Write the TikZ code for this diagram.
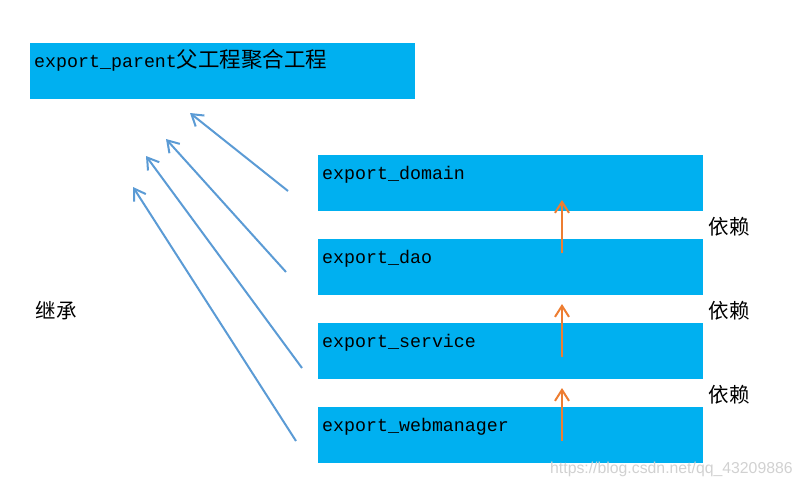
\documentclass[tikz,border=0pt]{standalone}
\usepackage{fontspec}
\newfontfamily\cjk{Noto Sans CJK SC}
\newfontfamily\mono{Liberation Mono}
\setmainfont{Liberation Sans}
\usetikzlibrary{arrows.meta,calc}
\definecolor{boxblue}{HTML}{00B0F0}
\definecolor{inhblue}{HTML}{5B9BD5}
\definecolor{deporange}{HTML}{ED7D31}
\tikzset{
  modbox/.style={fill=boxblue,draw=none,anchor=north west,minimum width=385pt,minimum height=56pt,inner sep=0pt},
  modtext/.style={anchor=base west,inner sep=0pt,font=\mono\fontsize{18.3}{20}\selectfont},
  cjktext/.style={inner sep=0pt,font=\cjk\fontsize{20.5}{22}\selectfont},
  inharrow/.style={draw=inhblue,line width=2pt,-{Straight Barb[length=11pt,width=14pt,line width=2pt]}},
  deparrow/.style={draw=deporange,line width=2pt,-{Straight Barb[length=11pt,width=14pt,line width=2pt]}},
}
\begin{document}
\begin{tikzpicture}[x=1pt,y=-1pt]
\useasboundingbox (0,0) rectangle (801,487);
% boxes
\node[modbox] (parent) at (30,43) {};
\node[modbox] (domain) at (318,155) {};
\node[modbox] (dao) at (318,239) {};
\node[modbox] (service) at (318,323) {};
\node[modbox] (web) at (318,407) {};
% texts
\node[modtext] (tparent) at ($(parent.north west)+(4,24)$) {export\_parent{\cjk\fontsize{21.5}{22}\selectfont 父工程聚合工程}};
\node[modtext] (tdomain) at ($(domain.north west)+(4,24)$) {export\_domain};
\node[modtext] (tdao) at ($(dao.north west)+(4,24)$) {export\_dao};
\node[modtext] (tservice) at ($(service.north west)+(4,24)$) {export\_service};
\node[modtext] (tweb) at ($(web.north west)+(4,24)$) {export\_webmanager};
% labels
\node[cjktext] (jc) at (56,311) {继承};
\node[cjktext] (yl1) at (729,227) {依赖};
\node[cjktext] (yl2) at (729,311) {依赖};
\node[cjktext] (yl3) at (729,395) {依赖};
% inheritance arrows
\coordinate (s1) at (288,191); \coordinate (e1) at (190,113);
\coordinate (s2) at (286,272); \coordinate (e2) at (166,139);
\coordinate (s3) at (302,368); \coordinate (e3) at (146,156);
\coordinate (s4) at (296,441); \coordinate (e4) at (133,187);
\draw[inharrow] (s1) -- (e1);
\draw[inharrow] (s2) -- (e2);
\draw[inharrow] (s3) -- (e3);
\draw[inharrow] (s4) -- (e4);
% dependency arrows
\coordinate (d1s) at (562,253); \coordinate (d1e) at (562,200);
\coordinate (d2s) at (562,357); \coordinate (d2e) at (562,304);
\coordinate (d3s) at (562,441); \coordinate (d3e) at (562,388);
\draw[deparrow] (d1s) -- (d1e);
\draw[deparrow] (d2s) -- (d2e);
\draw[deparrow] (d3s) -- (d3e);
% watermark
\node[anchor=west,inner sep=0pt,text=black!18,font=\fontsize{15.8}{17}\selectfont] (wm) at (550,469) {https://blog.csdn.net/qq\_43209886};
\end{tikzpicture}
\end{document}
